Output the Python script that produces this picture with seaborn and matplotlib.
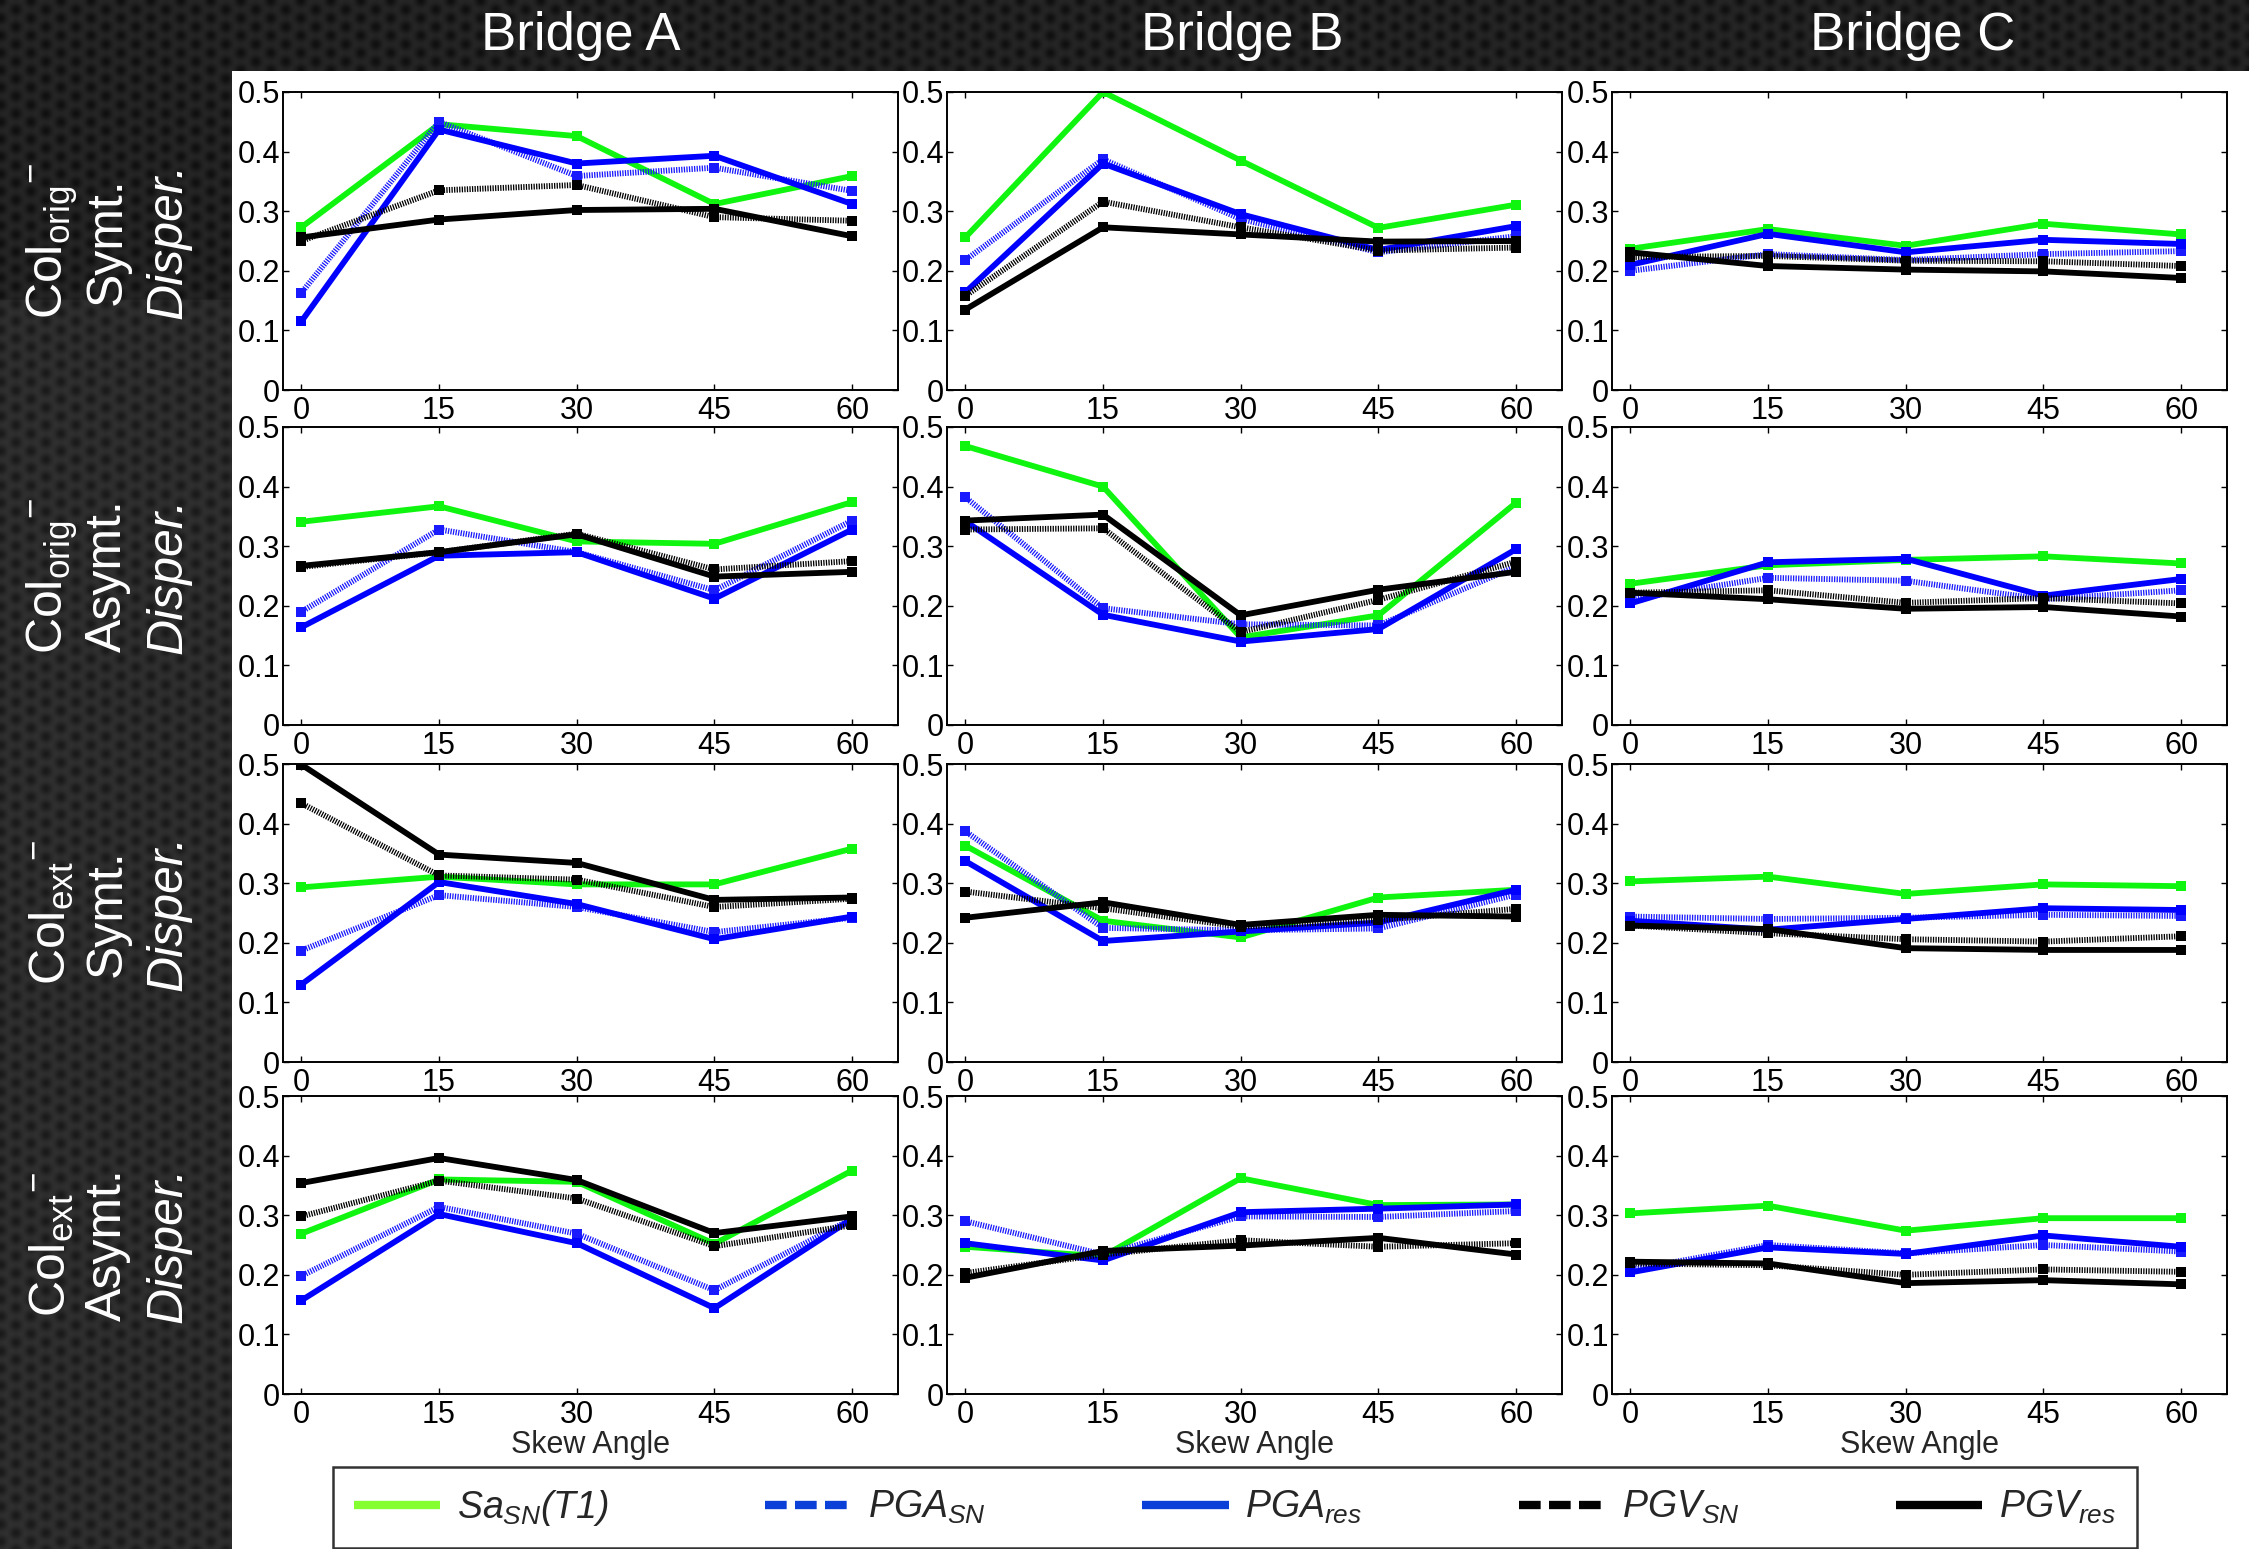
import numpy as np
import pandas as pd
import matplotlib
matplotlib.use("Agg")
import matplotlib.pyplot as plt
import seaborn as sns
from matplotlib.lines import Line2D
from matplotlib.patches import Rectangle
from matplotlib import font_manager as fm

# ---------------- data (rows: Col_orig Symt, Col_orig Asymt, Col_ext Symt, Col_ext Asymt)
angles = [0, 15, 30, 45, 60]
bridges = ["Bridge A", "Bridge B", "Bridge C"]
series_names = ["Sa_SN(T1)", "PGA_SN", "PGA_res", "PGV_SN", "PGV_res"]

sa_A = [[0.273, 0.446, 0.426, 0.312, 0.359], [0.341, 0.367, 0.308, 0.304, 0.374],
        [0.293, 0.311, 0.298, 0.298, 0.358], [0.269, 0.360, 0.356, 0.252, 0.375]]
pgasn_A = [[0.163, 0.450, 0.359, 0.373, 0.334], [0.190, 0.328, 0.290, 0.226, 0.343],
           [0.187, 0.280, 0.260, 0.218, 0.242], [0.198, 0.314, 0.269, 0.174, 0.294]]
pgares_A = [[0.115, 0.437, 0.380, 0.393, 0.312], [0.164, 0.284, 0.290, 0.212, 0.328],
            [0.130, 0.302, 0.265, 0.206, 0.244], [0.157, 0.302, 0.253, 0.144, 0.294]]
pgvsn_A = [[0.250, 0.335, 0.344, 0.290, 0.284], [0.265, 0.290, 0.321, 0.261, 0.275],
           [0.434, 0.313, 0.306, 0.260, 0.274], [0.298, 0.358, 0.328, 0.248, 0.283]]
pgvres_A = [[0.256, 0.286, 0.302, 0.304, 0.258], [0.267, 0.290, 0.320, 0.249, 0.257],
            [0.499, 0.348, 0.334, 0.272, 0.276], [0.354, 0.396, 0.359, 0.270, 0.298]]

sa_B = [[0.256, 0.500, 0.385, 0.272, 0.311], [0.468, 0.400, 0.147, 0.184, 0.373],
        [0.363, 0.237, 0.209, 0.276, 0.289], [0.247, 0.231, 0.362, 0.317, 0.318]]
pgasn_B = [[0.218, 0.387, 0.287, 0.231, 0.258], [0.382, 0.196, 0.169, 0.167, 0.266],
           [0.387, 0.225, 0.221, 0.224, 0.281], [0.290, 0.234, 0.298, 0.297, 0.307]]
pgares_B = [[0.164, 0.380, 0.295, 0.235, 0.275], [0.342, 0.185, 0.140, 0.161, 0.295],
            [0.337, 0.203, 0.219, 0.234, 0.289], [0.253, 0.224, 0.305, 0.311, 0.318]]
pgvsn_B = [[0.158, 0.316, 0.273, 0.234, 0.239], [0.328, 0.330, 0.156, 0.210, 0.274],
           [0.286, 0.258, 0.227, 0.238, 0.257], [0.203, 0.234, 0.258, 0.247, 0.253]]
pgvres_B = [[0.135, 0.273, 0.261, 0.249, 0.250], [0.343, 0.353, 0.184, 0.227, 0.257],
            [0.242, 0.268, 0.230, 0.247, 0.244], [0.195, 0.240, 0.249, 0.262, 0.234]]

sa_C = [[0.237, 0.270, 0.242, 0.279, 0.261], [0.237, 0.268, 0.277, 0.283, 0.271],
        [0.303, 0.311, 0.282, 0.298, 0.295], [0.303, 0.316, 0.274, 0.295, 0.295]]
pgasn_C = [[0.200, 0.228, 0.218, 0.228, 0.233], [0.211, 0.247, 0.242, 0.211, 0.226],
           [0.244, 0.240, 0.242, 0.247, 0.245], [0.208, 0.250, 0.236, 0.250, 0.239]]
pgares_C = [[0.210, 0.262, 0.231, 0.252, 0.245], [0.204, 0.273, 0.279, 0.217, 0.245],
            [0.237, 0.222, 0.240, 0.258, 0.255], [0.204, 0.246, 0.235, 0.266, 0.247]]
pgvsn_C = [[0.223, 0.225, 0.217, 0.216, 0.208], [0.222, 0.226, 0.205, 0.213, 0.204],
           [0.229, 0.216, 0.206, 0.202, 0.211], [0.219, 0.216, 0.200, 0.209, 0.205]]
pgvres_C = [[0.231, 0.208, 0.202, 0.199, 0.188], [0.222, 0.211, 0.195, 0.198, 0.182],
            [0.229, 0.223, 0.191, 0.188, 0.188], [0.222, 0.219, 0.186, 0.191, 0.184]]

row_line1 = [r"Col$_{\mathsf{orig}}{}^{\mathsf{-}}$", r"Col$_{\mathsf{orig}}{}^{\mathsf{-}}$",
             r"Col$_{\mathsf{ext}}{}^{\mathsf{-}}$", r"Col$_{\mathsf{ext}}{}^{\mathsf{-}}$"]
row_line2 = ["Symt.", "Asymt.", "Symt.", "Asymt."]
row_line3 = ["Disper.", "Disper.", "Disper.", "Disper."]
y_ticks = [0, 0.1, 0.2, 0.3, 0.4, 0.5]
y_ticklabels = ["0", "0.1", "0.2", "0.3", "0.4", "0.5"]

table = {
    "Bridge A": [sa_A, pgasn_A, pgares_A, pgvsn_A, pgvres_A],
    "Bridge B": [sa_B, pgasn_B, pgares_B, pgvsn_B, pgvres_B],
    "Bridge C": [sa_C, pgasn_C, pgares_C, pgvsn_C, pgvres_C],
}
records = []
for b in bridges:
    for s, arr in zip(series_names, table[b]):
        for r in range(4):
            for a, v in zip(angles, arr[r]):
                records.append({"bridge": b, "series": s, "row": r, "angle": a, "value": v})
df = pd.DataFrame(records)

# ---------------- style
sns.set_style("ticks")


def has_font(name):
    try:
        fm.findfont(fm.FontProperties(family=name), fallback_to_default=False)
        return True
    except Exception:
        return False


base = "Liberation Sans" if has_font("Liberation Sans") else "DejaVu Sans"
narrow = "Liberation Sans Narrow" if has_font("Liberation Sans Narrow") else base
plt.rcParams["font.family"] = [base, "DejaVu Sans"]
plt.rcParams["mathtext.fontset"] = "custom"
plt.rcParams["mathtext.rm"] = f"{narrow}:italic"
plt.rcParams["mathtext.it"] = f"{narrow}:italic"
plt.rcParams["mathtext.sf"] = base

styles = {
    "Sa_SN(T1)": dict(color="#10f510", linestyle="-"),
    "PGA_SN": dict(color="#1a1aff", linestyle=(0, (0.22, 0.22))),
    "PGA_res": dict(color="#0000ff", linestyle="-"),
    "PGV_SN": dict(color="#000000", linestyle=(0, (0.22, 0.22))),
    "PGV_res": dict(color="#000000", linestyle="-"),
}

W, H = 2249, 1549
fig = plt.figure(figsize=(W / 100, H / 100), dpi=100)
fig.patch.set_facecolor("#161616")

# textured dark background
bg = fig.add_axes([0, 0, 1, 1], zorder=-10)
yy, xx = np.mgrid[0:H:2, 0:W:2].astype(float)
k = 2 * np.pi / 15.0
f = (np.cos(k * xx) + np.cos(k * (0.5 * xx + 0.866 * yy)) + np.cos(k * (-0.5 * xx + 0.866 * yy)))
tex = 0.19 - 0.09 * (f + 1.5) / 4.5 - 0.04 * (yy < 300)
bg.imshow(tex, cmap="gray", vmin=0, vmax=1, aspect="auto", extent=[0, 1, 0, 1], interpolation="bilinear")
bg.set_axis_off()

fig.patches.append(Rectangle((232 / W, 0), 1 - 232 / W, 1 - 71 / H, transform=fig.transFigure,
                             facecolor="white", edgecolor="none", zorder=-5))

col_left = [283 / W, 947 / W, 1612 / W]
ax_w = 615 / W
row_top = [92, 427, 764, 1096]
ax_h = 298 / H

for ci, b in enumerate(bridges):
    for r in range(4):
        ax = fig.add_axes([col_left[ci], 1 - (row_top[r] + 298) / H, ax_w, ax_h])
        ax.set_facecolor("white")
        sub = df[(df.bridge == b) & (df.row == r)]
        for s in series_names:
            d = sub[sub.series == s]
            sns.lineplot(data=d, x="angle", y="value", ax=ax, color=styles[s]["color"],
                         linestyle=styles[s]["linestyle"], linewidth=4.2, marker="s",
                         markersize=6.8, markeredgewidth=0, estimator=None, sort=False,
                         errorbar=None, legend=False)
        ax.set_xlim(-2, 65)
        ax.set_ylim(0, 0.5)
        ax.set_xticks(angles)
        ax.set_xticklabels([str(a) for a in angles])
        ax.set_yticks(y_ticks)
        ax.set_yticklabels(y_ticklabels)
        ax.tick_params(direction="in", length=4, width=1, top=True, right=True,
                       labelsize=22, pad=2, colors="black")
        ax.tick_params(axis="x", pad=4)
        for sp in ax.spines.values():
            sp.set_visible(True)
            sp.set_linewidth(1.4)
            sp.set_color("black")
        ax.set_ylabel("")
        if r == 3:
            ax.set_xlabel("Skew Angle", fontsize=22, labelpad=0)
        else:
            ax.set_xlabel("")

# column titles
for x, t in zip([581, 1242, 1913], bridges):
    fig.text(x / W, 1 - 36 / H, t, color="white", fontsize=38, ha="center", va="center")

# row labels
for r in range(4):
    yc = 1 - (row_top[r] + 149) / H
    fig.text(52 / W, yc, row_line1[r], color="white", fontsize=36, rotation=90, ha="center", va="center")
    fig.text(108 / W, yc, row_line2[r], color="white", fontsize=36, rotation=90, ha="center", va="center")
    fig.text(168 / W, yc, row_line3[r], color="white", fontsize=36, rotation=90, ha="center", va="center",
             style="italic")

# legend
handles = [
    Line2D([], [], color="#84ff30", lw=6, solid_capstyle="butt"),
    Line2D([], [], color="#0a3fd8", lw=6, linestyle=(0, (2.6, 1.0)), dash_capstyle="butt"),
    Line2D([], [], color="#0a3fd8", lw=6, solid_capstyle="butt"),
    Line2D([], [], color="black", lw=6, linestyle=(0, (2.6, 1.0)), dash_capstyle="butt"),
    Line2D([], [], color="black", lw=6, solid_capstyle="butt"),
]
labels = [r"$Sa_{SN}(T1)$", r"$PGA_{SN}$", r"$PGA_{res}$", r"$PGV_{SN}$", r"$PGV_{res}$"]
leg = fig.legend(handles, labels, loc="upper left", bbox_to_anchor=(333 / W, -0.3, (2137 - 333) / W, 0.3 + 1 - 1467 / H),
                 mode="expand", ncol=5, frameon=True, fancybox=False, shadow=False, fontsize=27,
                 handlelength=2.3, handletextpad=0.45, borderpad=0.55, borderaxespad=0, columnspacing=2.0)
leg.get_frame().set_edgecolor("black")
leg.get_frame().set_linewidth(1.8)
leg.get_frame().set_facecolor("white")

fig.savefig("out.png", dpi=100, facecolor=fig.get_facecolor())
